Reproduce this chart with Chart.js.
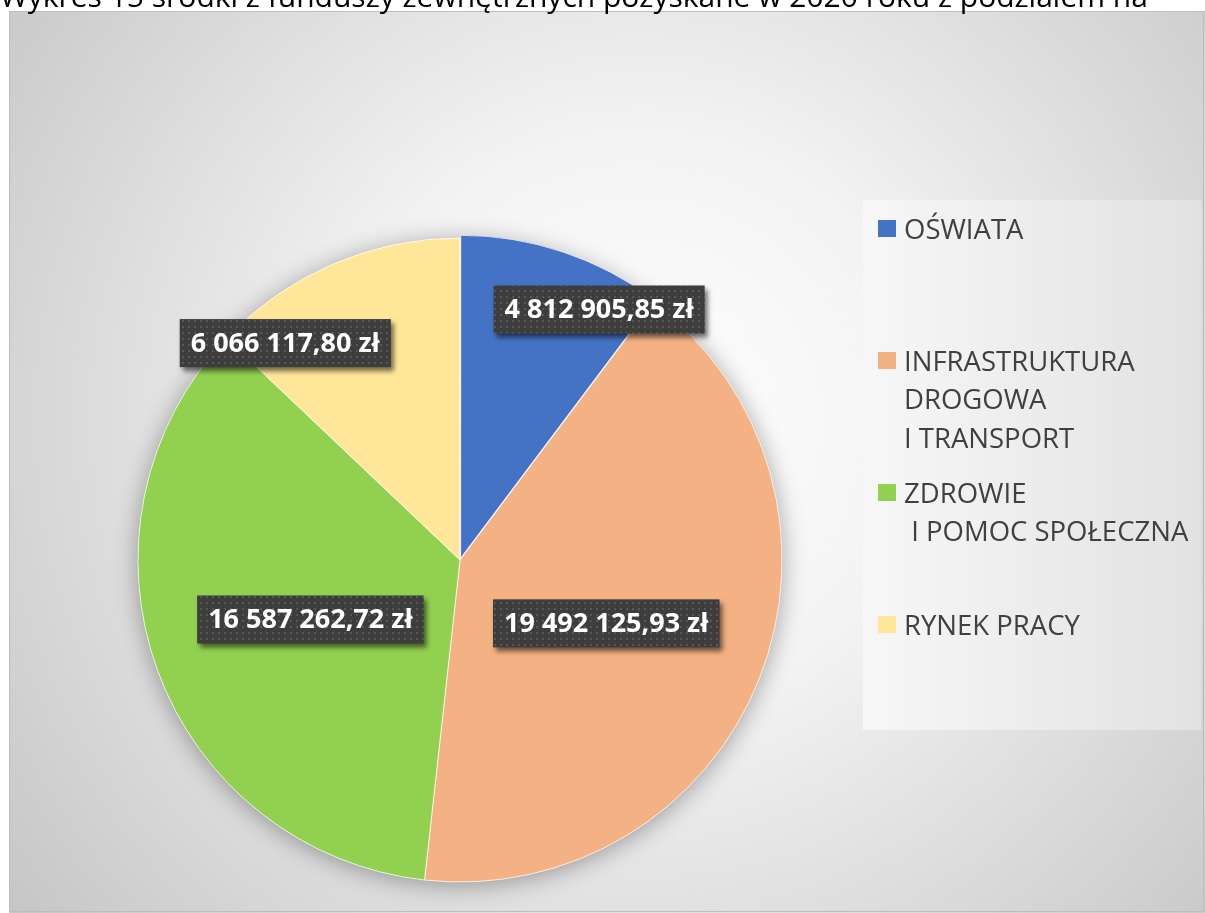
<!DOCTYPE html>
<html>
<head>
<meta charset="utf-8">
<script src="https://cdn.jsdelivr.net/npm/chart.js@4.4.1/dist/chart.umd.min.js"></script>
<style>
  html, body { margin: 0; padding: 0; background: #fff; overflow: hidden; }
  canvas { display: block; }
</style>
</head>
<body>
<canvas id="myChart" width="1205" height="913"></canvas>
<script>
const titleText = 'Wykres 15 środki z funduszy zewnętrznych pozyskane w 2020 roku z podziałem na';
const categories = ['OŚWIATA', ['INFRASTRUKTURA', 'DROGOWA', 'I TRANSPORT'], ['ZDROWIE', ' I POMOC SPOŁECZNA'], 'RYNEK PRACY'];
const amounts = [4812905.85, 19492125.93, 16587262.72, 6066117.80];
const sliceColors = ['#4472C4', '#F4B183', '#92D050', '#FFE699'];

// label placement: angle shift (deg) from slice middle, and fraction of radius
const labelShift = [10.6, 1.8, -1.6, -15.6];
const labelRadius = [0.89, 0.495, 0.5, 0.865];

function formatZl(v) {
    const parts = v.toFixed(2).split('.');
    const intPart = parts[0].replace(/\B(?=(\d{3})+(?!\d))/g, ' ');
    return intPart + ',' + parts[1] + ' zł';
}

function makeDotPattern(ctx) {
    const p = document.createElement('canvas');
    p.width = 6; p.height = 6;
    const pc = p.getContext('2d');
    pc.fillStyle = '#3d3d3d';
    pc.fillRect(0, 0, 6, 6);
    pc.fillStyle = '#575757';
    pc.fillRect(2, 2, 2, 2);
    return ctx.createPattern(p, 'repeat');
}

const backgroundPlugin = {
    id: 'background',
    beforeDraw(chart) {
        const ctx = chart.ctx;
        ctx.save();
        ctx.fillStyle = '#ffffff';
        ctx.fillRect(0, 0, chart.width, chart.height);
        // frame
        const g = ctx.createRadialGradient(640, 420, 0, 640, 420, 820);
        g.addColorStop(0, '#ffffff');
        g.addColorStop(0.35, '#f3f3f3');
        g.addColorStop(1, '#c4c4c4');
        ctx.fillStyle = g;
        ctx.fillRect(9, 11, chart.width - 9, chart.height - 11);
        ctx.strokeStyle = '#bdbdbd';
        ctx.lineWidth = 1;
        ctx.strokeRect(9.5, 11.5, chart.width - 11, chart.height - 13);
        // title (cut at the top)
        ctx.fillStyle = '#000000';
        ctx.font = '30px "Open Sans"';
        ctx.textBaseline = 'alphabetic';
        ctx.textAlign = 'left';
        ctx.fillText(titleText, 0, 7);
        // legend box
        const lg = ctx.createLinearGradient(863, 0, 1201, 0);
        lg.addColorStop(0, '#f7f7f7');
        lg.addColorStop(1, '#e2e2e2');
        ctx.fillStyle = lg;
        ctx.fillRect(863, 200, 338, 530);
        ctx.restore();
    },
    beforeDatasetsDraw(chart) {
        const arc = chart.getDatasetMeta(0).data[1];
        if (!arc) return;
        const {x, y, outerRadius} = arc.getProps(['x', 'y', 'outerRadius'], true);
        const ctx = chart.ctx;
        ctx.save();
        ctx.shadowColor = 'rgba(0,0,0,0.35)';
        ctx.shadowBlur = 24;
        ctx.shadowOffsetX = 0;
        ctx.shadowOffsetY = 3;
        ctx.fillStyle = '#f2f2f2';
        ctx.beginPath();
        ctx.arc(x, y, outerRadius, 0, Math.PI * 2);
        ctx.fill();
        ctx.restore();
    }
};

const valueLabelPlugin = {
    id: 'valueLabels',
    afterDatasetsDraw(chart) {
        const ctx = chart.ctx;
        const meta = chart.getDatasetMeta(0);
        const values = chart.data.datasets[0].data;
        const pattern = makeDotPattern(ctx);
        ctx.save();
        ctx.font = 'bold 27px "Open Sans"';
        ctx.textAlign = 'center';
        ctx.textBaseline = 'middle';
        meta.data.forEach((arc, i) => {
            const {x, y, startAngle, endAngle, outerRadius} =
                arc.getProps(['x', 'y', 'startAngle', 'endAngle', 'outerRadius'], true);
            const mid = (startAngle + endAngle) / 2 + labelShift[i] * Math.PI / 180;
            const cx = x + Math.cos(mid) * outerRadius * labelRadius[i];
            const cy = y + Math.sin(mid) * outerRadius * labelRadius[i];
            const text = formatZl(values[i]);
            const w = ctx.measureText(text).width + 22;
            const h = 48;
            ctx.save();
            ctx.shadowColor = 'rgba(0,0,0,0.55)';
            ctx.shadowBlur = 5;
            ctx.shadowOffsetX = 3;
            ctx.shadowOffsetY = 4;
            ctx.fillStyle = pattern;
            ctx.fillRect(cx - w / 2, cy - h / 2, w, h);
            ctx.restore();
            ctx.fillStyle = '#ffffff';
            ctx.fillText(text, cx, cy + 1);
        });
        ctx.restore();
    }
};

const legendPlugin = {
    id: 'sideLegend',
    afterDraw(chart) {
        const ctx = chart.ctx;
        const colors = chart.data.datasets[0].backgroundColor;
        ctx.save();
        ctx.font = '27.5px "Open Sans"';
        ctx.textAlign = 'left';
        ctx.textBaseline = 'alphabetic';
        chart.data.labels.forEach((lab, i) => {
            const lines = Array.isArray(lab) ? lab : [lab];
            const top = 219 + i * 132;
            ctx.fillStyle = colors[i];
            ctx.fillRect(878, top + 1, 18, 17);
            ctx.fillStyle = '#404040';
            lines.forEach((ln, j) => {
                ctx.fillText(ln, 904, top + 19.5 + j * 38.5);
            });
        });
        ctx.restore();
    }
};

const pie_dataset = {
    data: amounts,
    backgroundColor: sliceColors,
    borderColor: 'rgba(255,255,255,0.7)',
    borderWidth: 1,
    offset: [8, 0, 0, 0],
    hoverOffset: 0
};

const myChart = new Chart(document.getElementById('myChart'), {
    type: 'pie',
    data: {
        labels: categories,
        datasets: [pie_dataset]
    },
    options: {
        responsive: false,
        devicePixelRatio: 1,
        animation: false,
        radius: 322,
        layout: { padding: { left: 130, right: 415, top: 232, bottom: 25 } },
        plugins: {
            legend: { display: false },
            tooltip: { enabled: false }
        }
    },
    plugins: [backgroundPlugin, valueLabelPlugin, legendPlugin]
});
</script>
</body>
</html>
